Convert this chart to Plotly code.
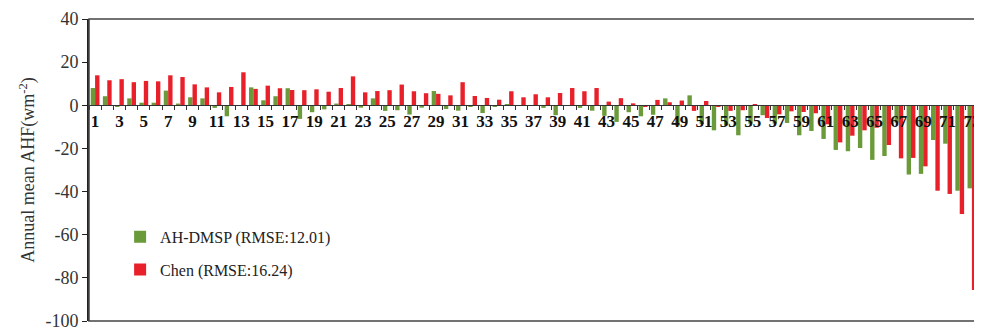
import plotly.graph_objects as go

categories = [str(i) for i in range(1, 74)]

ah_dmsp = [8.0, 4.2, -0.6, 3.2, 1.2, 1.2, 6.8, 0.8, 3.7, 3.2,
           -1.2, -5.1, 0.0, 8.3, 2.3, 4.2, 7.9, -6.3, -3.2, -1.9,
           0.8, 0.6, -1.1, 3.2, -2.6, -2.3, -4.3, -1.1, 6.6, -1.7,
           -2.5, -0.6, -3.6, -0.8, 0.2, -0.2, -0.3, -1.2, -4.6, -0.3,
           -1.2, -2.5, -4.9, -7.7, -3.2, -5.1, -4.4, 3.2, -9.5, 4.6,
           -8.7, -11.6, -9.3, -13.9, -8.5, -4.6, -8.5, -8.2, -13.9, -11.9,
           -15.6, -20.7, -21.3, -19.8, -25.3, -23.5, -8.0, -32.1, -31.8, -16.1,
           -17.8, -39.6, -38.5]

chen = [13.9, 11.6, 12.1, 10.7, 11.3, 11.1, 13.9, 13.1, 9.7, 8.3,
        6.0, 8.5, 15.3, 7.6, 9.1, 7.9, 7.1, 7.0, 7.4, 6.3,
        8.0, 13.4, 6.0, 6.6, 7.0, 9.6, 6.5, 5.6, 5.3, 4.6,
        10.7, 4.3, 3.4, 2.6, 6.5, 3.7, 5.1, 3.7, 5.7, 8.0,
        6.5, 8.0, 1.7, 3.3, 0.9, -0.8, 2.5, 1.4, 2.2, -2.6,
        2.0, -0.8, -2.6, -2.3, 0.5, -5.9, -4.2, -2.8, -3.1, -3.7,
        -8.8, -17.2, -14.1, -11.6, -10.4, -18.4, -24.6, -24.4, -28.3, -39.6,
        -41.1, -50.4, -85.6]

tick_labels = [c if int(c) % 2 == 1 else "" for c in categories]
y_ticks = [-100, -80, -60, -40, -20, 0, 20, 40]
y_tick_text = ["-100", "-80", "-60", "-40", "-20", "0", "20", "40"]

GREEN = "#6b9a3a"
RED = "#e8202a"
SERIF = "Liberation Serif"

fig = go.Figure()
fig.add_trace(go.Bar(x=categories, y=ah_dmsp, name="AH-DMSP (RMSE:12.01)",
                     marker=dict(color=GREEN, line=dict(width=0)), legendgroup="a"))
fig.add_trace(go.Bar(x=categories, y=chen, name="Chen (RMSE:16.24)",
                     marker=dict(color=RED, line=dict(width=0)), legendgroup="b"))

y_min, y_max = -100, 40
fig.update_layout(
    width=974, height=322,
    margin=dict(l=81, r=4, t=11, b=9, autoexpand=False),
    paper_bgcolor="white", plot_bgcolor="white",
    barmode="group", bargap=0.28, bargroupgap=0.0,
    showlegend=True,
    legend=dict(x=0.035, y=0.335, xanchor="left", yanchor="top",
                bgcolor="rgba(0,0,0,0)", tracegroupgap=9,
                font=dict(family=SERIF, size=16, color="#222")),
    xaxis=dict(type="category", range=[-0.5, 72.5], automargin=False,
               tickmode="array", tickvals=categories, ticktext=tick_labels,
               tickson="boundaries", ticks="outside", ticklen=4, tickcolor="#333",
               tickangle=0, ticklabeloverflow="allow",
               showline=True, linecolor="#333", linewidth=1.2,
               anchor="free", position=(0 - y_min) / (y_max - y_min),
               showgrid=False, zeroline=False,
               tickfont=dict(family=SERIF, size=17, color="#111", weight="bold")),
    yaxis=dict(range=[y_min, y_max], tickmode="array", tickvals=y_ticks,
               ticktext=y_tick_text, automargin=False, ticklabeloverflow="allow",
               ticks="outside", ticklen=5, tickcolor="#222",
               showline=True, linecolor="#222", linewidth=2,
               showgrid=False, zeroline=False,
               tickfont=dict(family=SERIF, size=18, color="#333"),
               title=dict(text="Annual mean AHF(wm<sup>-2</sup>)", standoff=6,
                          font=dict(family=SERIF, size=18, color="#333"))),
    shapes=[dict(type="rect", xref="paper", yref="paper", x0=0, x1=1, y0=0, y1=1,
                 line=dict(color="#444", width=1.5), layer="above")],
)

fig.write_html("out.html")
